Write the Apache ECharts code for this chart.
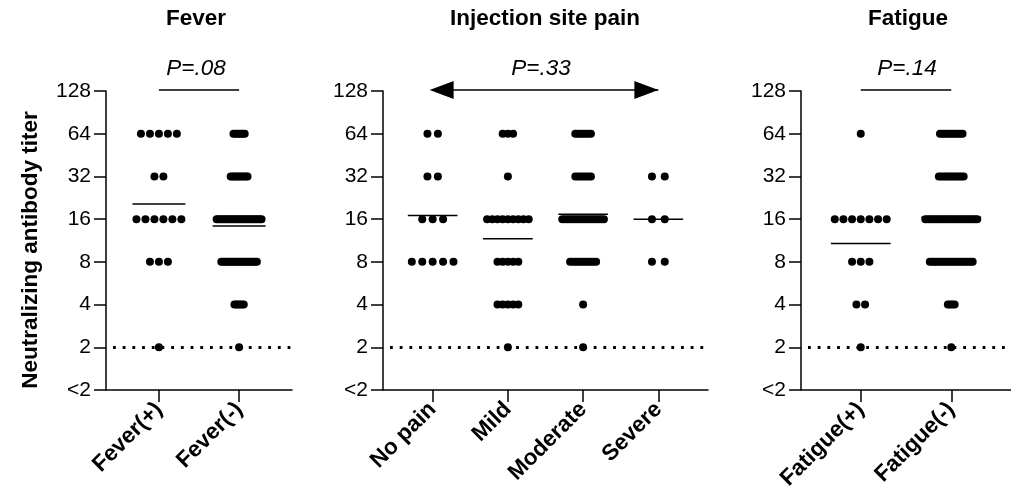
<!DOCTYPE html>
<html><head><meta charset="utf-8">
<script src="https://cdn.jsdelivr.net/npm/echarts@6/dist/echarts.min.js"></script>
<style>html,body{margin:0;padding:0;background:#fff}#c{width:1011px;height:499px}</style>
</head><body><div id="c"></div><script>
// ---- data (counts of subjects at each titer level) ----
const titers = [2, 4, 8, 16, 32, 64];
const yTickLabels = ['<2', '2', '4', '8', '16', '32', '64', '128'];

const feverCats = ['Fever(+)', 'Fever(-)'];
const feverPos = [1, 0, 3, 6, 2, 5];
const feverNeg = [1, 6, 20, 25, 10, 7];

const painCats = ['No pain', 'Mild', 'Moderate', 'Severe'];
const noPain = [0, 0, 5, 3, 2, 2];
const mild = [1, 5, 5, 9, 1, 3];
const moderate = [1, 1, 11, 17, 7, 7];
const severe = [0, 0, 2, 2, 2, 0];

const fatigueCats = ['Fatigue(+)', 'Fatigue(-)'];
const fatiguePos = [1, 2, 3, 7, 0, 1];
const fatigueNeg = [1, 4, 20, 24, 12, 11];

const panelTitles = ['Fever', 'Injection site pain', 'Fatigue'];
const pValues = ['P=.08', 'P=.33', 'P=.14'];

// ---- layout ----
const FONT = '"Liberation Sans", Arial, Helvetica, sans-serif';
const COL_W = 0.66;   // column width in category units
const DOT = 8;        // dot diameter px
const S0 = 12.8;      // max dot spacing px
const MARGIN = 0.66;
const grids = [
  {left: 106, top: 91, width: 186, height: 299},
  {left: 383, top: 91, width: 325, height: 299},
  {left: 801, top: 91, width: 214, height: 299}
];
const titleX = [196, 545, 908];
const pX = [196, 541, 907];

const panels = [
  {cats: feverCats, groups: [feverPos, feverNeg], compare: [0, 1], arrow: false},
  {cats: painCats, groups: [noPain, mild, moderate, severe], compare: [0, 3], arrow: true},
  {cats: fatigueCats, groups: [fatiguePos, fatigueNeg], compare: [0, 1], arrow: false}
];

function swarm(groups, unitPx) {
  const pts = [];
  groups.forEach((counts, g) => {
    const nmax = Math.max(...counts);
    const s = nmax > 1 ? Math.min(S0, (COL_W * unitPx - DOT) / (nmax - 1)) : 0;
    const su = s / unitPx;
    counts.forEach((n, k) => {
      const y = Math.log2(titers[k]);
      for (let j = 0; j < n; j++) pts.push([g + (j - (n - 1) / 2) * su, y]);
    });
  });
  return pts;
}
function geoMeans(groups) {
  return groups.map((counts, g) => {
    let sum = 0, tot = 0;
    counts.forEach((n, k) => { sum += n * Math.log2(titers[k]); tot += n; });
    return [g, sum / tot];
  });
}

const xAxis = [], yAxis = [], series = [];
panels.forEach((p, i) => {
  const xmin = -MARGIN, xmax = p.cats.length - 1 + MARGIN;
  const unitPx = grids[i].width / (xmax - xmin);
  const idx = p.cats.map((c, k) => k);
  xAxis.push({
    type: 'value', gridIndex: i, min: xmin, max: xmax,
    axisLine: {show: true, onZero: false, lineStyle: {color: '#000', width: 1.5}},
    axisTick: {show: true, length: 12, customValues: idx, lineStyle: {color: '#000', width: 1.5}},
    axisLabel: {show: true, customValues: idx, rotate: 45, margin: 16,
      formatter: v => p.cats[Math.round(v)], color: '#000', fontFamily: FONT, fontWeight: 'bold', fontSize: 22.5},
    splitLine: {show: false}
  });
  yAxis.push({
    type: 'value', gridIndex: i, min: 0, max: 7, interval: 1,
    axisLine: {show: true, onZero: false, lineStyle: {color: '#000', width: 1.5}},
    axisTick: {show: true, length: 12, lineStyle: {color: '#000', width: 1.5}},
    axisLabel: {margin: 15, formatter: v => yTickLabels[Math.round(v)], color: '#000', fontFamily: FONT, fontSize: 21},
    splitLine: {show: false}
  });
  series.push({
    type: 'scatter', xAxisIndex: i, yAxisIndex: i, symbolSize: DOT, silent: true,
    itemStyle: {color: '#000', opacity: 1}, data: swarm(p.groups, unitPx), z: 3,
    markLine: {silent: true, symbol: 'none', label: {show: false},
      lineStyle: {color: '#000', width: 2.8, type: [2.8, 6.9], dashOffset: -7},
      data: [{yAxis: Math.log2(2)}]}
  });
  series.push({
    type: 'custom', xAxisIndex: i, yAxisIndex: i, silent: true, z: 4,
    data: geoMeans(p.groups),
    renderItem: (params, api) => {
      const x = api.value(0), y = api.value(1);
      const a = api.coord([x - COL_W / 2, y]), b = api.coord([x + COL_W / 2, y]);
      return {type: 'line', shape: {x1: a[0], y1: a[1], x2: b[0], y2: b[1]}, style: {stroke: '#000', lineWidth: 1.5}};
    }
  });
  series.push({
    type: 'custom', xAxisIndex: i, yAxisIndex: i, silent: true, clip: false, z: 4,
    data: [[p.compare[0], p.compare[1], 7]],
    renderItem: (params, api) => {
      const a = api.coord([api.value(0), api.value(2)]), b = api.coord([api.value(1), api.value(2)]);
      const y = a[1] - 1;
      const children = [{type: 'line', shape: {x1: a[0], y1: y, x2: b[0], y2: y}, style: {stroke: '#000', lineWidth: 1.5}}];
      if (p.arrow) {
        children.push({type: 'polygon', shape: {points: [[a[0] - 3, y], [a[0] + 21, y - 9], [a[0] + 21, y + 9]]}, style: {fill: '#000'}});
        children.push({type: 'polygon', shape: {points: [[b[0], y], [b[0] - 24, y - 9], [b[0] - 24, y + 9]]}, style: {fill: '#000'}});
      }
      return {type: 'group', children};
    }
  });
});

const graphic = [];
panelTitles.forEach((t, i) => {
  graphic.push({type: 'text', x: titleX[i], y: 19, style: {text: t, font: 'bold 22.5px ' + FONT, fill: '#000', align: 'center', verticalAlign: 'middle', textAlign: 'center', textVerticalAlign: 'middle'}});
  graphic.push({type: 'text', x: pX[i], y: 69, style: {text: pValues[i], font: 'italic 22.5px ' + FONT, fill: '#000', align: 'center', verticalAlign: 'middle', textAlign: 'center', textVerticalAlign: 'middle'}});
});
graphic.push({type: 'text', x: 31, y: 250, rotation: Math.PI / 2,
  style: {text: 'Neutralizing antibody titer', font: 'bold 22.5px ' + FONT, fill: '#000', align: 'center', verticalAlign: 'middle', textAlign: 'center', textVerticalAlign: 'middle'}});

const chart = echarts.init(document.getElementById('c'), null, {renderer: 'canvas'});
chart.setOption({
  animation: false, backgroundColor: '#fff',
  grid: grids.map(g => Object.assign({containLabel: false}, g)),
  xAxis, yAxis, series, graphic
});
</script></body></html>
